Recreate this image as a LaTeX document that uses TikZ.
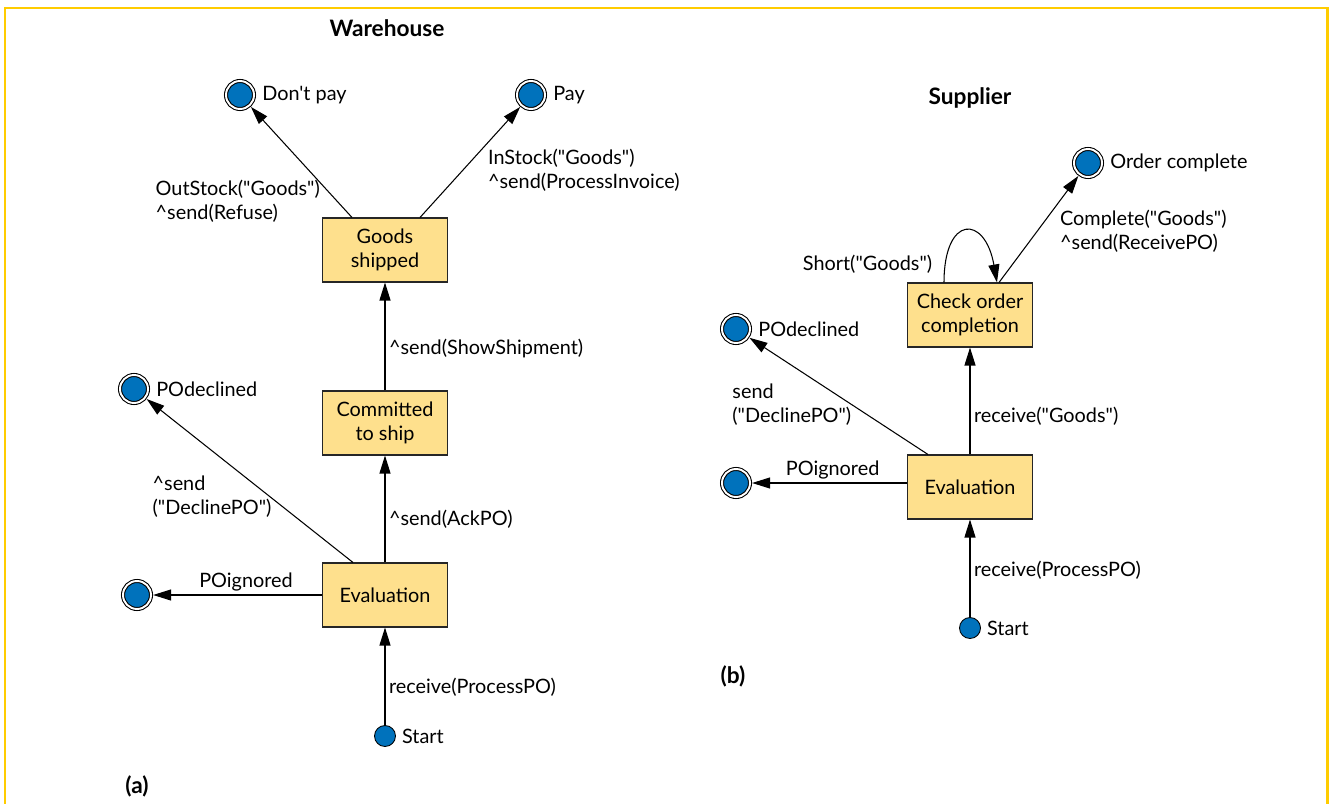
\documentclass[tikz,border=0pt]{standalone}
\usepackage{fontspec}
\setmainfont{Lato}[Ligatures=TeXOff]
\usetikzlibrary{arrows.meta}
\definecolor{frameyellow}{RGB}{255,204,0}
\definecolor{boxyellow}{RGB}{254,224,141}
\definecolor{dotblue}{RGB}{0,114,188}
\tikzset{
  statebox/.style={rectangle,draw=black!85,fill=boxyellow,line width=0.6pt,minimum width=2.5cm,minimum height=1.28cm,align=center,inner sep=2pt},
  enddot/.style={circle,draw=black,fill=dotblue,double=white,double distance=1.1pt,line width=0.6pt,minimum size=0.56cm,inner sep=0pt,outer sep=1.2pt},
  startdot/.style={circle,draw=black,fill=dotblue,line width=0.5pt,minimum size=0.42cm,inner sep=0pt},
  trans/.style={->,line width=0.6pt},
  lbl/.style={align=left,inner sep=2pt},
  heading/.style={font=\fontsize{12.9}{15}\selectfont\bfseries}
}

\begin{document}
\begin{tikzpicture}[x=0.02cm,y=-0.02cm,>={Triangle[length=0.36cm,width=0.22cm]},font=\fontsize{11.3}{13.6}\selectfont]
    \useasboundingbox (0,0) rectangle (1329,804);
    % yellow frame, open at the bottom
    \draw[frameyellow,line width=1.7pt] (5,804) -- (5,8) -- (1327,8) -- (1327,804);

    % (a) the warehouse
    \node[heading] (titleA) at (387,28) {Warehouse};
    \node[statebox] (shippedA) at (385,250) {Goods\\shipped};
    \node[statebox] (committedA) at (385,423) {Committed\\to ship};
    \node[statebox] (evalA) at (385,595) {Evaluation};
    \node[startdot,label=right:Start] (startA) at (385,736) {};
    \node[enddot,label=right:Don't pay] (dontpayA) at (240,95) {};
    \node[enddot,label=right:Pay] (payA) at (531,95) {};
    \node[enddot,label=right:POdeclined] (declinedA) at (134,389) {};
    \node[enddot] (ignoredA) at (137,595) {};
    \node[heading] (capA) at (137,786) {(a)};

    \draw[trans] ([xshift=-0.66cm]shippedA.north) -- (dontpayA)
        node[lbl,pos=0.15,anchor=east,xshift=-0.26cm] {OutStock("Goods")\\\textasciicircum send(Refuse)};
    \draw[trans] ([xshift=0.7cm]shippedA.north) -- (payA)
        node[lbl,pos=0.43,anchor=west,xshift=0.42cm] {InStock("Goods")\\\textasciicircum send(ProcessInvoice)};
    \draw[trans] (committedA) -- (shippedA)
        node[lbl,pos=0.385,anchor=west] {\textasciicircum send(ShowShipment)};
    \draw[trans] (evalA) -- (committedA)
        node[lbl,pos=0.4,anchor=west] {\textasciicircum send(AckPO)};
    \draw[trans] ([xshift=-0.64cm]evalA.north) -- (declinedA)
        node[lbl,pos=0.4,anchor=east,xshift=0.1cm] {\textasciicircum send\\("DeclinePO")};
    \draw[trans] (evalA) -- (ignoredA)
        node[lbl,pos=0.45,above] {POignored};
    \draw[trans] (startA) -- (evalA)
        node[lbl,pos=0.39,anchor=west] {receive(ProcessPO)};

    % (b) the supplier
    \node[heading] (titleB) at (970,98) {Supplier};
    \node[statebox] (checkB) at (970,315) {Check order\\completion};
    \node[statebox] (evalB) at (970,487) {Evaluation};
    \node[startdot,label=right:Start] (startB) at (970,628) {};
    \node[enddot,label=right:Order complete] (completeB) at (1088,163) {};
    \node[enddot,label=right:POdeclined] (declinedB) at (736,329) {};
    \node[enddot] (ignoredB) at (736,483) {};
    \node[heading] (capB) at (733,676) {(b)};

    \draw[trans] ([xshift=0.58cm]checkB.north) -- (completeB)
        node[lbl,pos=0.48,anchor=west,xshift=0.38cm] {Complete("Goods")\\\textasciicircum send(ReceivePO)};
    \draw[trans] ([xshift=-0.52cm]checkB.north) .. controls +(0,-68) and +(-12,-68) .. ([xshift=0.54cm]checkB.north)
        node[lbl,pos=0.1,anchor=east,xshift=-0.18cm] {Short("Goods")};
    \draw[trans] (evalB) -- (checkB)
        node[lbl,pos=0.36,anchor=west] {receive("Goods")};
    \draw[trans] ([xshift=-0.84cm]evalB.north) -- (declinedB)
        node[lbl,pos=0.43,anchor=east,xshift=0.08cm] {send\\("DeclinePO")};
    \draw[trans] (evalB.west |- ignoredB) -- (ignoredB)
        node[lbl,pos=0.48,above] {POignored};
    \draw[trans] (startB) -- (evalB)
        node[lbl,pos=0.48,anchor=west] {receive(ProcessPO)};
\end{tikzpicture}
\end{document}
